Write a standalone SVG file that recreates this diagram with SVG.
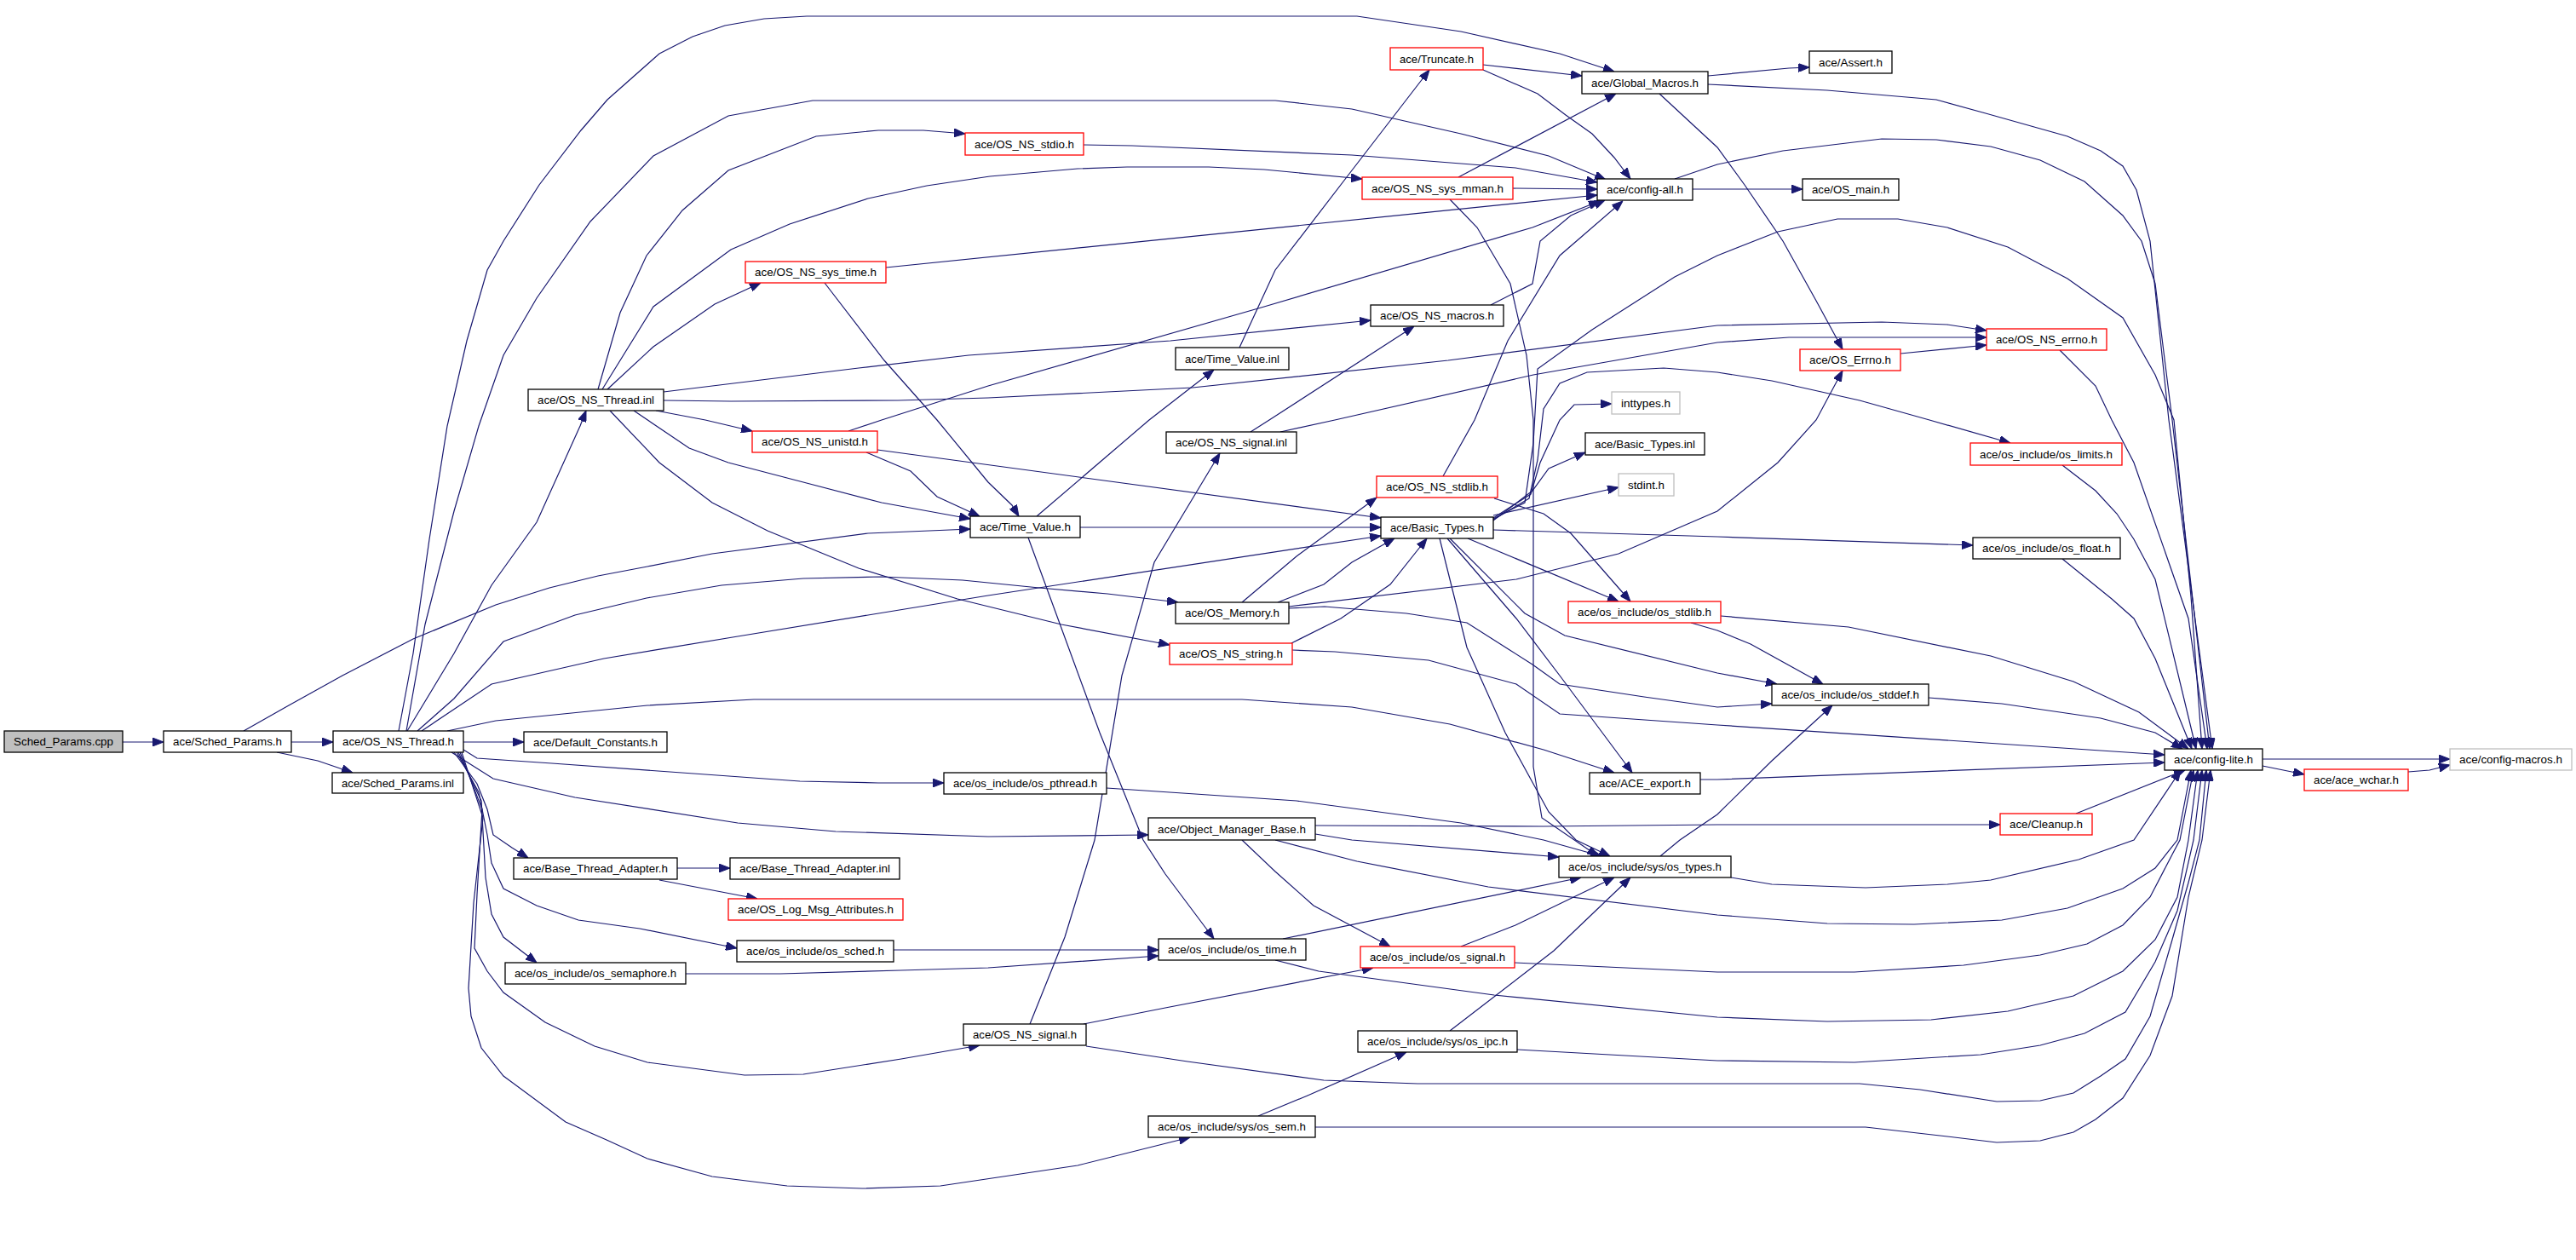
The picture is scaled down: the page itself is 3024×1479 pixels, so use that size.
<svg xmlns="http://www.w3.org/2000/svg" width="3024" height="1479" viewBox="0 0 3024 1479">
<style>
.node rect{fill:#ffffff;stroke:#000000;stroke-width:1.3}
.node.red rect{stroke:#ff0000}
.node.ext rect{stroke:#bfbfbf}
.node.root rect{fill:#bfbfbf}
.node text{font-family:"Liberation Sans Narrow","Liberation Sans",Arial,sans-serif;font-size:13px;fill:#000000;text-anchor:middle}
#edges path{fill:none;stroke:#191970;stroke-width:1.2;marker-end:url(#arr)}
</style>
<defs>
<marker id="arr" markerUnits="userSpaceOnUse" markerWidth="13" markerHeight="10" refX="13" refY="5" orient="auto"><path d="M0,0 L13,5 L0,10 z" fill="#191970" stroke="#191970" stroke-width="1"/></marker>
</defs>
<rect x="0" y="0" width="3024" height="1479" fill="#ffffff"/>
<g id="edges">
<path d="M144,871 L192,871"/>
<path d="M342,871 L391,871"/>
<path d="M325,883 L373,893 L414,907"/>
<path d="M286,858 L339,828 L402,793 L485,750 L582,710 L645,690 L702,676 L760,665 L836,650 L1019,626 L1139,621"/>
<path d="M544,871 L615,871"/>
<path d="M478,858 L533,767 L577,687 L630,613 L681,500 L688,482"/>
<path d="M468,858 L485,767 L504,633 L525,500 L548,400 L572,317 L591,283 L633,217 L682,153 L713,117 L774,63 L813,43 L851,30 L897,22 L947,19 L1593,19 L1715,37 L1831,63 L1895,84"/>
<path d="M477,858 L499,733 L533,600 L562,500 L591,417 L630,350 L693,260 L767,183 L855,136 L954,118 L1497,118 L1587,128 L1715,157 L1818,183 L1885,211"/>
<path d="M490,858 L533,820 L591,753 L675,722 L759,702 L847,687 L943,679 L1035,677 L1130,681 L1220,690 L1300,697 L1383,707"/>
<path d="M495,858 L577,803 L709,773 L866,747 L1019,722 L1160,699 L1621,629"/>
<path d="M525,858 L582,846 L760,828 L885,821 L1458,821 L1587,830 L1702,850 L1812,880 L1895,907"/>
<path d="M544,880 L560,890 L648,896 L939,917 L1031,919 L1108,919"/>
<path d="M530,883 L579,914 L675,936 L866,966 L981,976 L1160,982 L1348,980"/>
<path d="M533,883 L560,920 L572,950 L579,980 L601,995 L620,1007"/>
<path d="M536,883 L562,930 L572,980 L577,1013 L591,1043 L630,1063 L679,1080 L751,1090 L865,1113"/>
<path d="M538,883 L565,940 L570,1030 L577,1073 L591,1100 L630,1130"/>
<path d="M540,883 L566,950 L560,1050 L557,1113 L572,1140 L591,1165 L640,1200 L698,1228 L760,1247 L874,1262 L943,1261 L1058,1243 L1150,1227"/>
<path d="M542,883 L567,960 L556,1060 L550,1160 L553,1193 L565,1230 L591,1263 L664,1317 L712,1338 L760,1360 L836,1381 L924,1392 L1012,1395 L1104,1392 L1265,1368 L1397,1335"/>
<path d="M702,457 L728,367 L759,300 L801,247 L855,200 L958,160 L1031,153 L1084,153 L1133,157"/>
<path d="M707,457 L767,360 L858,293 L927,263 L1019,233 L1088,218 L1162,207 L1265,198 L1323,196 L1419,196 L1484,199 L1599,210"/>
<path d="M713,457 L767,407 L839,357 L893,332"/>
<path d="M779,460 L1008,432 L1137,417 L1374,400 L1609,376"/>
<path d="M779,470 L858,471 L1054,470 L1160,467 L1400,455 L1700,423 L2016,382 L2209,378 L2286,381 L2332,388"/>
<path d="M716,482 L774,543 L836,590 L901,623 L1008,667 L1124,703 L1246,733 L1373,757"/>
<path d="M744,482 L809,526 L855,543 L943,566 L1035,590 L1139,609"/>
<path d="M770,482 L828,493 L883,506"/>
<path d="M1017,531 L1069,553 L1100,583 L1150,606"/>
<path d="M1030,528 L1621,608"/>
<path d="M996,506 L1035,493 L1160,453 L1484,360 L1799,267 L1878,236"/>
<path d="M1040,314 L1875,229"/>
<path d="M968,332 L1038,423 L1100,493 L1160,566 L1188,593 L1196,606"/>
<path d="M1272,170 L1329,171 L1587,182 L1779,197 L1875,214"/>
<path d="M1741,76 L1857,89"/>
<path d="M1741,82 L1805,110 L1838,135 L1869,157 L1895,185 L1914,210"/>
<path d="M1455,408 L1497,317 L1587,200 L1678,82"/>
<path d="M1217,606 L1349,493 L1425,434"/>
<path d="M1712,208 L1897,110"/>
<path d="M1776,221 L1875,222"/>
<path d="M1702,234 L1734,267 L1773,333 L1792,417 L1800,493 L1800,900 L1810,960 L1876,1005"/>
<path d="M1750,358 L1799,333 L1808,283 L1844,253 L1884,235"/>
<path d="M1468,507 L1490,493 L1660,383"/>
<path d="M1503,507 L1567,493 L1800,440 L2016,402 L2100,396 L2332,396"/>
<path d="M1753,611 L1799,576 L1818,550 L1861,531"/>
<path d="M1753,605 L1900,572"/>
<path d="M1753,608 L1797,580 L1808,543 L1831,493 L1848,475 L1892,474"/>
<path d="M1753,609 L1790,590 L1800,520 L1805,433 L1869,387 L1966,325 L2016,300 L2087,272 L2157,257 L2228,257 L2286,267 L2357,290 L2427,327 L2492,373 L2530,440 L2552,493 L2572,700 L2585,879"/>
<path d="M1753,610 L1795,585 L1805,540 L1812,480 L1831,450 L1863,437 L1953,432 L2016,437 L2080,447 L2183,470 L2265,493 L2360,520"/>
<path d="M1753,622 L2016,630 L2316,640"/>
<path d="M1723,632 L1900,706"/>
<path d="M1702,632 L1790,720 L1837,746 L2016,790 L2086,803"/>
<path d="M1699,632 L1780,726 L1831,793 L1916,907"/>
<path d="M1690,632 L1722,760 L1767,860 L1818,953 L1850,986 L1890,1005"/>
<path d="M1516,755 L1574,726 L1632,686 L1675,632"/>
<path d="M1517,763 L1567,765 L1677,775 L1780,803 L1831,838 L2016,851 L2541,886"/>
<path d="M1500,707 L1554,686 L1587,660 L1637,632"/>
<path d="M1458,707 L1522,653 L1616,584"/>
<path d="M1513,712 L1780,680 L1900,650 L2016,600 L2087,543 L2132,493 L2163,435"/>
<path d="M1513,714 L1555,712 L1651,720 L1722,731 L1799,780 L1831,803 L1930,818 L2016,830 L2080,826"/>
<path d="M1694,559 L1731,493 L1770,400 L1831,300 L1905,236"/>
<path d="M1754,585 L1812,603 L1844,626 L1914,706"/>
<path d="M1985,731 L2016,740 L2055,756 L2140,803"/>
<path d="M2020,723 L2170,736 L2337,770 L2434,800 L2511,836 L2569,879"/>
<path d="M2264,819 L2350,826 L2466,843 L2530,860 L2562,879"/>
<path d="M2421,546 L2460,576 L2485,603 L2505,633 L2530,680 L2578,879"/>
<path d="M2421,656 L2479,703 L2505,726 L2530,773 L2573,879"/>
<path d="M2418,411 L2460,453 L2479,493 L2505,543 L2569,726 L2591,879"/>
<path d="M2005,99 L2145,106 L2273,117 L2331,133 L2427,160 L2466,177 L2492,195 L2508,223 L2524,283 L2546,493 L2597,879"/>
<path d="M1966,210 L2016,193 L2093,177 L2209,163 L2273,164 L2337,172 L2395,188 L2447,213 L2492,253 L2514,283 L2530,333 L2550,493 L2594,879"/>
<path d="M2005,89 L2016,88 L2100,80 L2124,79"/>
<path d="M1948,110 L2016,173 L2048,217 L2093,283 L2132,353 L2163,410"/>
<path d="M1987,222 L2116,222"/>
<path d="M2231,415 L2332,405"/>
<path d="M1996,915 L2016,915 L2541,895"/>
<path d="M2656,891 L2876,891"/>
<path d="M2656,899 L2705,909"/>
<path d="M2827,906 L2852,904 L2876,898"/>
<path d="M2437,955 L2565,904"/>
<path d="M1544,969 L1812,970 L2016,968 L2348,968"/>
<path d="M1544,979 L1587,986 L1830,1006"/>
<path d="M1458,986 L1497,1023 L1542,1063 L1632,1111"/>
<path d="M1497,986 L1593,1011 L1747,1041 L2016,1074 L2145,1084 L2247,1085 L2350,1080 L2427,1066 L2492,1043 L2530,1019 L2556,986 L2572,904"/>
<path d="M1299,925 L1522,940 L1715,966 L1812,986 L1880,1005"/>
<path d="M1949,1005 L1972,986 L2016,956 L2080,893 L2151,828"/>
<path d="M2032,1030 L2080,1038 L2190,1042 L2286,1038 L2337,1033 L2440,1009 L2505,986 L2560,904"/>
<path d="M1506,1102 L1856,1030"/>
<path d="M1497,1127 L1548,1140 L1754,1168 L2016,1194 L2145,1199 L2267,1197 L2357,1187 L2434,1169 L2492,1140 L2530,1103 L2556,1053 L2569,986 L2580,904"/>
<path d="M1715,1111 L1779,1086 L1895,1030"/>
<path d="M1778,1130 L2016,1141 L2177,1141 L2305,1133 L2395,1121 L2450,1108 L2492,1086 L2524,1053 L2550,1003 L2559,986 L2575,904"/>
<path d="M1702,1210 L1824,1116 L1914,1030"/>
<path d="M1781,1232 L2016,1245 L2177,1247 L2325,1238 L2395,1227 L2447,1213 L2495,1188 L2530,1129 L2556,1069 L2575,986 L2585,904"/>
<path d="M1209,1202 L1250,1100 L1285,986 L1317,793 L1355,660 L1432,532"/>
<path d="M1272,1202 L1368,1183 L1612,1136"/>
<path d="M1275,1228 L1394,1246 L1554,1268 L1664,1272 L2016,1272 L2183,1272 L2254,1279 L2344,1293 L2395,1292 L2434,1283 L2466,1263 L2495,1243 L2524,1193 L2550,1103 L2569,1036 L2582,986 L2590,904"/>
<path d="M1477,1310 L1535,1286 L1651,1235"/>
<path d="M1544,1323 L2016,1323 L2190,1323 L2286,1334 L2344,1341 L2395,1339 L2434,1329 L2460,1314 L2492,1289 L2524,1239 L2550,1169 L2569,1053 L2585,986 L2595,904"/>
<path d="M1049,1115 L1360,1115"/>
<path d="M805,1143 L916,1143 L1057,1139 L1160,1136 L1360,1122"/>
<path d="M1207,631 L1291,860 L1342,986 L1368,1026 L1425,1102"/>
<path d="M1268,619 L1621,619"/>
<path d="M795,1019 L857,1019"/>
<path d="M774,1033 L889,1055"/>
</g>
<g id="n_cpp" class="node root"><rect x="5" y="858" width="139" height="25"/><text x="74.5" y="875" textLength="117" lengthAdjust="spacingAndGlyphs">Sched_Params.cpp</text></g>
<g id="n_sph" class="node"><rect x="192" y="858" width="150" height="25"/><text x="267" y="875" textLength="128" lengthAdjust="spacingAndGlyphs">ace/Sched_Params.h</text></g>
<g id="n_nth" class="node"><rect x="391" y="858" width="153" height="25"/><text x="467.5" y="875" textLength="131" lengthAdjust="spacingAndGlyphs">ace/OS_NS_Thread.h</text></g>
<g id="n_spi" class="node"><rect x="390" y="907" width="154" height="24"/><text x="467" y="923.5" textLength="132" lengthAdjust="spacingAndGlyphs">ace/Sched_Params.inl</text></g>
<g id="n_ntinl" class="node"><rect x="620" y="457" width="159" height="25"/><text x="699.5" y="474" textLength="137" lengthAdjust="spacingAndGlyphs">ace/OS_NS_Thread.inl</text></g>
<g id="n_dc" class="node"><rect x="615" y="859" width="168" height="24"/><text x="699" y="875.5" textLength="146" lengthAdjust="spacingAndGlyphs">ace/Default_Constants.h</text></g>
<g id="n_stdio" class="node red"><rect x="1133" y="156" width="139" height="26"/><text x="1202.5" y="173.5" textLength="117" lengthAdjust="spacingAndGlyphs">ace/OS_NS_stdio.h</text></g>
<g id="n_trunc" class="node red"><rect x="1632" y="56" width="109" height="26"/><text x="1686.5" y="73.5" textLength="87" lengthAdjust="spacingAndGlyphs">ace/Truncate.h</text></g>
<g id="n_gm" class="node"><rect x="1857" y="84" width="148" height="26"/><text x="1931" y="101.5" textLength="126" lengthAdjust="spacingAndGlyphs">ace/Global_Macros.h</text></g>
<g id="n_assert" class="node"><rect x="2124" y="60" width="97" height="26"/><text x="2172.5" y="77.5" textLength="75" lengthAdjust="spacingAndGlyphs">ace/Assert.h</text></g>
<g id="n_mman" class="node red"><rect x="1599" y="208" width="177" height="26"/><text x="1687.5" y="225.5" textLength="155" lengthAdjust="spacingAndGlyphs">ace/OS_NS_sys_mman.h</text></g>
<g id="n_call" class="node"><rect x="1875" y="210" width="112" height="25"/><text x="1931" y="227" textLength="90" lengthAdjust="spacingAndGlyphs">ace/config-all.h</text></g>
<g id="n_main" class="node"><rect x="2116" y="210" width="113" height="25"/><text x="2172.5" y="227" textLength="91" lengthAdjust="spacingAndGlyphs">ace/OS_main.h</text></g>
<g id="n_systime" class="node red"><rect x="875" y="307" width="165" height="25"/><text x="957.5" y="324" textLength="143" lengthAdjust="spacingAndGlyphs">ace/OS_NS_sys_time.h</text></g>
<g id="n_macros" class="node"><rect x="1609" y="358" width="156" height="25"/><text x="1687" y="375" textLength="134" lengthAdjust="spacingAndGlyphs">ace/OS_NS_macros.h</text></g>
<g id="n_tvinl" class="node"><rect x="1380" y="408" width="133" height="26"/><text x="1446.5" y="425.5" textLength="111" lengthAdjust="spacingAndGlyphs">ace/Time_Value.inl</text></g>
<g id="n_inttypes" class="node ext"><rect x="1892" y="460" width="80" height="26"/><text x="1932" y="477.5" textLength="58" lengthAdjust="spacingAndGlyphs">inttypes.h</text></g>
<g id="n_errno" class="node red"><rect x="2332" y="386" width="141" height="25"/><text x="2402.5" y="403" textLength="119" lengthAdjust="spacingAndGlyphs">ace/OS_NS_errno.h</text></g>
<g id="n_oserrno" class="node red"><rect x="2113" y="410" width="118" height="25"/><text x="2172" y="427" textLength="96" lengthAdjust="spacingAndGlyphs">ace/OS_Errno.h</text></g>
<g id="n_unistd" class="node red"><rect x="883" y="506" width="147" height="25"/><text x="956.5" y="523" textLength="125" lengthAdjust="spacingAndGlyphs">ace/OS_NS_unistd.h</text></g>
<g id="n_siginl" class="node"><rect x="1369" y="507" width="153" height="25"/><text x="1445.5" y="524" textLength="131" lengthAdjust="spacingAndGlyphs">ace/OS_NS_signal.inl</text></g>
<g id="n_btinl" class="node"><rect x="1861" y="508" width="140" height="26"/><text x="1931" y="525.5" textLength="118" lengthAdjust="spacingAndGlyphs">ace/Basic_Types.inl</text></g>
<g id="n_stdint" class="node ext"><rect x="1900" y="556" width="65" height="26"/><text x="1932.5" y="573.5" textLength="43" lengthAdjust="spacingAndGlyphs">stdint.h</text></g>
<g id="n_nstdlib" class="node red"><rect x="1616" y="559" width="142" height="25"/><text x="1687" y="576" textLength="120" lengthAdjust="spacingAndGlyphs">ace/OS_NS_stdlib.h</text></g>
<g id="n_tvh" class="node"><rect x="1139" y="606" width="129" height="25"/><text x="1203.5" y="623" textLength="107" lengthAdjust="spacingAndGlyphs">ace/Time_Value.h</text></g>
<g id="n_bt" class="node"><rect x="1621" y="607" width="132" height="25"/><text x="1687" y="624" textLength="110" lengthAdjust="spacingAndGlyphs">ace/Basic_Types.h</text></g>
<g id="n_limits" class="node red"><rect x="2313" y="520" width="178" height="26"/><text x="2402" y="537.5" textLength="156" lengthAdjust="spacingAndGlyphs">ace/os_include/os_limits.h</text></g>
<g id="n_float" class="node"><rect x="2316" y="631" width="173" height="25"/><text x="2402.5" y="648" textLength="151" lengthAdjust="spacingAndGlyphs">ace/os_include/os_float.h</text></g>
<g id="n_mem" class="node"><rect x="1380" y="707" width="133" height="25"/><text x="1446.5" y="724" textLength="111" lengthAdjust="spacingAndGlyphs">ace/OS_Memory.h</text></g>
<g id="n_oistdlib" class="node red"><rect x="1841" y="706" width="179" height="25"/><text x="1930.5" y="723" textLength="157" lengthAdjust="spacingAndGlyphs">ace/os_include/os_stdlib.h</text></g>
<g id="n_string" class="node red"><rect x="1373" y="755" width="144" height="25"/><text x="1445" y="772" textLength="122" lengthAdjust="spacingAndGlyphs">ace/OS_NS_string.h</text></g>
<g id="n_stddef" class="node"><rect x="2080" y="803" width="184" height="25"/><text x="2172" y="820" textLength="162" lengthAdjust="spacingAndGlyphs">ace/os_include/os_stddef.h</text></g>
<g id="n_clite" class="node"><rect x="2541" y="879" width="115" height="25"/><text x="2598.5" y="896" textLength="93" lengthAdjust="spacingAndGlyphs">ace/config-lite.h</text></g>
<g id="n_cmacros" class="node ext"><rect x="2876" y="879" width="143" height="25"/><text x="2947.5" y="896" textLength="121" lengthAdjust="spacingAndGlyphs">ace/config-macros.h</text></g>
<g id="n_wchar" class="node red"><rect x="2705" y="903" width="122" height="25"/><text x="2766" y="920" textLength="100" lengthAdjust="spacingAndGlyphs">ace/ace_wchar.h</text></g>
<g id="n_export" class="node"><rect x="1866" y="907" width="130" height="25"/><text x="1931" y="924" textLength="108" lengthAdjust="spacingAndGlyphs">ace/ACE_export.h</text></g>
<g id="n_pthread" class="node"><rect x="1108" y="907" width="191" height="25"/><text x="1203.5" y="924" textLength="169" lengthAdjust="spacingAndGlyphs">ace/os_include/os_pthread.h</text></g>
<g id="n_cleanup" class="node red"><rect x="2348" y="955" width="108" height="25"/><text x="2402" y="972" textLength="86" lengthAdjust="spacingAndGlyphs">ace/Cleanup.h</text></g>
<g id="n_omb" class="node"><rect x="1348" y="960" width="196" height="26"/><text x="1446" y="977.5" textLength="174" lengthAdjust="spacingAndGlyphs">ace/Object_Manager_Base.h</text></g>
<g id="n_types" class="node"><rect x="1830" y="1005" width="202" height="25"/><text x="1931" y="1022" textLength="180" lengthAdjust="spacingAndGlyphs">ace/os_include/sys/os_types.h</text></g>
<g id="n_bta" class="node"><rect x="603" y="1007" width="192" height="25"/><text x="699" y="1024" textLength="170" lengthAdjust="spacingAndGlyphs">ace/Base_Thread_Adapter.h</text></g>
<g id="n_btainl" class="node"><rect x="857" y="1007" width="199" height="25"/><text x="956.5" y="1024" textLength="177" lengthAdjust="spacingAndGlyphs">ace/Base_Thread_Adapter.inl</text></g>
<g id="n_logmsg" class="node red"><rect x="855" y="1055" width="205" height="25"/><text x="957.5" y="1072" textLength="183" lengthAdjust="spacingAndGlyphs">ace/OS_Log_Msg_Attributes.h</text></g>
<g id="n_sched" class="node"><rect x="865" y="1104" width="184" height="25"/><text x="957" y="1121" textLength="162" lengthAdjust="spacingAndGlyphs">ace/os_include/os_sched.h</text></g>
<g id="n_sema" class="node"><rect x="593" y="1130" width="212" height="25"/><text x="699" y="1147" textLength="190" lengthAdjust="spacingAndGlyphs">ace/os_include/os_semaphore.h</text></g>
<g id="n_time" class="node"><rect x="1360" y="1102" width="173" height="25"/><text x="1446.5" y="1119" textLength="151" lengthAdjust="spacingAndGlyphs">ace/os_include/os_time.h</text></g>
<g id="n_signal" class="node red"><rect x="1597" y="1111" width="181" height="25"/><text x="1687.5" y="1128" textLength="159" lengthAdjust="spacingAndGlyphs">ace/os_include/os_signal.h</text></g>
<g id="n_nsignal" class="node"><rect x="1131" y="1202" width="144" height="25"/><text x="1203" y="1219" textLength="122" lengthAdjust="spacingAndGlyphs">ace/OS_NS_signal.h</text></g>
<g id="n_ipc" class="node"><rect x="1594" y="1210" width="187" height="25"/><text x="1687.5" y="1227" textLength="165" lengthAdjust="spacingAndGlyphs">ace/os_include/sys/os_ipc.h</text></g>
<g id="n_sem" class="node"><rect x="1348" y="1310" width="196" height="25"/><text x="1446" y="1327" textLength="174" lengthAdjust="spacingAndGlyphs">ace/os_include/sys/os_sem.h</text></g>
</svg>
